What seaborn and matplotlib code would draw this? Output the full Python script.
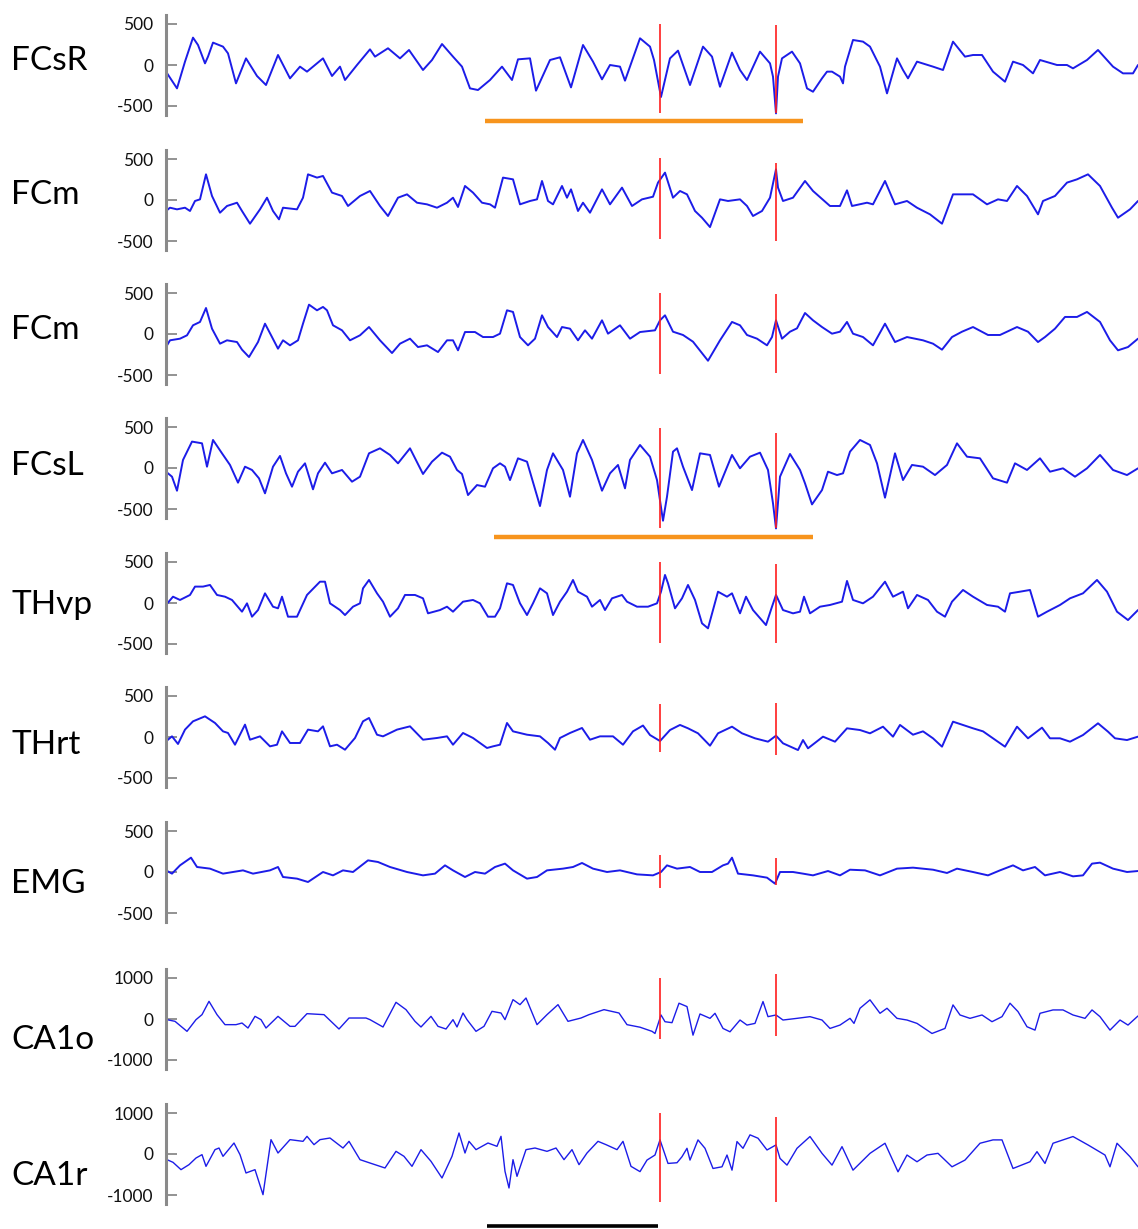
import matplotlib
matplotlib.use("Agg")
from matplotlib import pyplot as plt
import seaborn as sns

# channel names, top to bottom
channels = ["FCsR", "FCm", "FCm", "FCsL", "THvp", "THrt", "EMG", "CA1o", "CA1r"]
scales = [500, 500, 500, 500, 500, 500, 500, 1000, 1000]

# traces: sample index / amplitude
t_fcsr = [0, 11, 19, 27, 32, 39, 42, 47, 57, 62, 70, 80, 91, 100, 112, 124, 134, 141, 157, 166, 174, 179, 191, 204,
          209, 222, 234, 243, 257, 266, 276, 287, 296, 304, 312, 324, 336, 346, 352, 364, 370, 384, 394, 405, 417,
          427, 436, 444, 454, 459, 474, 484, 488, 495, 504, 512, 524, 537, 546, 554, 566, 574, 581, 594, 604, 607,
          610, 612, 616, 626, 634, 641, 647, 656, 661, 666, 674, 677, 679, 687, 697, 704, 714, 721, 731, 737, 742,
          751, 767, 777, 787, 799, 807, 816, 827, 839, 847, 857, 867, 874, 891, 901, 907, 921, 932, 947, 957, 967, 972]
v_fcsr = [-81, -285, 41, 334, 244, 20, 102, 273, 224, 142, -224, 81, -134, -244, 122, -163, -20, -81, 81, -134, -20,
          -183, 0, 191, 102, 204, 81, 183, -61, 61, 256, 102, -20, -285, -305, -183, -20, -183, 69, 81, -313, 61, 94,
          -273, 244, 41, -175, 0, -20, -191, 326, 224, 61, -390, 81, 175, -244, 224, 102, -265, 151, -61, -183, 163,
          20, -142, -590, -142, 81, 163, 20, -285, -326, -163, -81, -81, -142, -224, -20, 305, 285, 224, -20, -346,
          81, -61, -163, 41, -20, -61, 285, 102, 122, 122, -81, -204, 41, 0, -102, 61, 0, 0, -41, 61, 183, -20, -102,
          -102, 0]

t_fcm1 = [0, 4, 11, 19, 24, 29, 34, 40, 46, 54, 61, 71, 76, 84, 94, 101, 107, 113, 117, 131, 137, 142, 151, 157, 166,
          176, 182, 194, 204, 214, 222, 232, 241, 251, 261, 271, 281, 287, 292, 299, 307, 316, 324, 329, 337, 347, 354,
          364, 371, 376, 382, 387, 396, 401, 405, 412, 417, 424, 436, 444, 456, 466, 476, 487, 492, 499, 507, 514, 521,
          529, 536, 544, 554, 562, 574, 581, 587, 596, 604, 610, 612, 617, 627, 639, 647, 664, 674, 681, 686, 701, 707,
          719, 729, 741, 751, 764, 776, 787, 807, 821, 832, 841, 851, 861, 872, 877, 889, 901, 911, 922, 934, 946, 952,
          964, 972]
v_fcm1 = [-134, -94, -114, -94, -134, -12, 8, 313, 49, -155, -73, -33, -134, -289, -114, 28, -134, -236, -94, -114,
          28, 313, 273, 293, 90, 49, -73, 49, 110, -73, -195, 28, 69, -33, -53, -94, -33, 28, -85, 171, 90, -33, -53,
          -94, 273, 252, -53, -12, 8, 232, -12, -53, 171, 28, 130, -134, -33, -155, 130, -53, 151, -73, 8, 40, 212,
          334, 28, 110, 69, -134, -216, -330, 8, -12, 8, -73, -195, -134, 28, 374, 151, -12, 28, 232, 110, -73, -73,
          118, -73, -33, -53, 232, -53, -12, -94, -175, -289, 69, 69, -53, 8, -12, 171, 49, -175, -12, 49, 212, 252,
          313, 171, -94, -216, -114, -12]

t_fcm2 = [0, 4, 14, 21, 27, 34, 40, 46, 54, 61, 71, 76, 83, 92, 99, 106, 112, 117, 124, 132, 137, 143, 151, 157, 161,
          167, 176, 184, 194, 203, 214, 226, 234, 244, 252, 261, 272, 281, 287, 292, 299, 309, 317, 327, 334, 341, 347,
          354, 362, 369, 376, 382, 391, 396, 404, 412, 419, 426, 436, 442, 454, 464, 474, 489, 494, 499, 507, 517, 527,
          542, 554, 566, 574, 581, 591, 601, 606, 610, 616, 624, 631, 639, 647, 656, 666, 674, 681, 687, 697, 707, 719,
          729, 741, 757, 767, 776, 786, 796, 807, 822, 834, 851, 862, 872, 879, 889, 899, 911, 921, 934, 944, 952, 962,
          972]
v_fcm2 = [-159, -77, -57, -16, 106, 147, 317, 65, -118, -77, -98, -191, -281, -98, 126, -37, -179, -77, -138, -77,
          126, 358, 289, 330, 289, 106, 45, -77, -16, 85, -77, -232, -118, -57, -159, -138, -220, -77, -77, -199, 24,
          24, -37, -37, 4, 289, 269, -37, -138, -57, 228, 85, -37, 85, 65, -77, 45, -57, 167, 4, 106, -57, 24, 45, 167,
          228, 28, -12, -94, -326, -77, 147, 106, -12, -57, -138, -37, 167, -57, 28, 69, 256, 167, 85, 4, 28, 147, 4,
          -37, -138, 126, -98, -37, -77, -118, -191, -37, 28, 85, -12, -12, 85, 28, -98, -37, 65, 208, 208, 269, 147,
          -77, -199, -159, -57]

t_fcsl = [0, 6, 11, 17, 26, 36, 41, 47, 56, 64, 72, 79, 86, 93, 99, 107, 114, 120, 126, 132, 139, 147, 152, 159, 166,
          176, 186, 194, 203, 214, 224, 232, 244, 257, 266, 276, 284, 291, 296, 302, 311, 319, 327, 334, 339, 344, 352,
          361, 374, 381, 387, 397, 404, 411, 417, 426, 436, 444, 452, 459, 464, 474, 484, 491, 497, 501, 507, 511, 517,
          526, 534, 544, 553, 566, 574, 584, 594, 602, 607, 610, 614, 624, 634, 639, 646, 656, 662, 671, 677, 684, 694,
          704, 711, 719, 729, 737, 746, 757, 769, 781, 791, 801, 814, 827, 841, 849, 861, 874, 884, 897, 909, 921, 934,
          947, 961, 972]
v_fcsl = [-45, -106, -277, 98, 322, 301, 16, 342, 179, 37, -179, 16, -24, -126, -309, 16, 147, -65, -228, -45, 57,
          -260, -65, 65, -65, -24, -167, -106, 179, 240, 159, 57, 240, -73, 77, 187, 138, -24, -73, -330, -208, -228,
          -4, 57, 16, -147, 118, 77, -464, -24, 179, -24, -350, 179, 342, 98, -277, -65, 37, -248, 98, 281, 138, -147,
          -643, -350, 199, 240, 16, -269, 179, 159, -228, 159, -4, 138, 187, -24, -431, -737, -106, 171, -24, -187,
          -444, -269, -45, -86, -65, 199, 342, 281, 57, -362, 179, -147, 37, 16, -86, 37, 301, 138, 118, -126, -179,
          57, -24, 118, -45, -4, -106, -4, 159, -24, -86, -4]

t_thvp = [0, 7, 14, 24, 29, 37, 44, 51, 59, 66, 76, 81, 86, 92, 99, 107, 112, 116, 122, 131, 141, 154, 159, 164, 174,
          179, 187, 194, 197, 203, 211, 217, 224, 232, 239, 249, 257, 262, 274, 281, 287, 297, 307, 314, 322, 329, 334,
          341, 347, 354, 361, 367, 374, 381, 387, 394, 401, 407, 412, 421, 426, 434, 439, 446, 456, 461, 471, 482, 491,
          495, 499, 502, 509, 516, 522, 529, 536, 542, 552, 561, 566, 574, 580, 587, 600, 606, 610, 617, 627, 634, 638,
          644, 654, 664, 676, 681, 687, 697, 707, 719, 727, 737, 742, 751, 762, 771, 779, 786, 797, 807, 821, 832, 839,
          844, 854, 864, 872, 881, 894, 904, 917, 931, 941, 951, 962, 972]
v_thvp = [-24, 77, 37, 98, 200, 200, 220, 98, 77, 37, -106, -4, -167, -86, 118, -45, -65, 77, -167, -167, 98, 260,
          260, -4, -86, -147, -45, -4, 179, 281, 118, 16, -167, -65, 98, 98, 57, -126, -86, -45, -106, 16, 37, -4,
          -167, -167, -65, 240, 220, -4, -147, -4, 179, 118, -147, 16, 138, 281, 138, 77, -45, 37, -86, 57, 98, 16,
          -45, -45, -4, 138, 342, 240, -65, 57, 220, 37, -248, -309, 138, 77, 118, -126, 77, -86, -269, -45, 98, -86,
          -126, -106, 77, -126, -45, -24, 16, 269, 37, -4, 77, 260, 77, 138, -65, 98, 37, -106, -167, 16, 159, 77,
          -24, -45, -106, 118, 138, 159, -167, -106, -24, 57, 118, 281, 138, -106, -208, -86]

t_thrt = [0, 6, 12, 19, 27, 39, 49, 57, 62, 69, 79, 84, 94, 104, 111, 116, 124, 134, 142, 152, 157, 164, 171, 179,
          189, 197, 203, 211, 217, 231, 244, 257, 271, 281, 287, 297, 307, 321, 327, 334, 341, 347, 361, 374, 382, 389,
          394, 404, 416, 424, 434, 447, 457, 467, 477, 484, 494, 504, 514, 522, 532, 544, 552, 566, 576, 589, 602, 610,
          617, 632, 637, 642, 657, 669, 681, 694, 704, 717, 727, 734, 747, 757, 767, 776, 787, 807, 817, 827, 839, 851,
          862, 876, 884, 894, 904, 917, 932, 942, 949, 961, 972]
v_thrt = [-53, 8, -85, 90, 191, 252, 171, 69, 49, -94, 151, -33, 8, -114, -94, 69, -73, -73, 90, 69, 130, -114, -94,
          -155, -12, 191, 232, 28, 8, 90, 130, -33, -12, 8, -94, 49, -12, -134, -114, -94, 171, 69, 28, 8, -73, -155,
          -12, 49, 110, -33, 8, 8, -94, 69, 140, 24, -49, 85, 147, 106, 45, -106, 45, 126, 45, -16, -57, 16, -77,
          -159, -37, -138, 4, -57, 106, 85, 45, 126, 4, 147, 28, 69, -16, -118, 187, 106, 69, -16, -118, 126, -16, 114,
          -16, -16, -57, 24, 167, 65, -16, -37, 4]

t_emg = [0, 6, 14, 25, 31, 44, 57, 77, 87, 104, 112, 117, 131, 142, 157, 167, 177, 187, 202, 212, 224, 241, 257, 269,
         279, 287, 299, 309, 319, 329, 339, 347, 361, 371, 381, 397, 407, 416, 427, 441, 454, 471, 487, 495, 501, 511,
         524, 534, 546, 557, 562, 566, 572, 587, 601, 609, 614, 627, 637, 647, 662, 674, 684, 699, 714, 731, 747, 767,
         781, 791, 807, 822, 834, 847, 857, 869, 879, 894, 907, 917, 926, 934, 947, 961, 972]
v_emg = [20, -20, 81, 175, 61, 41, -20, 20, -20, 20, 61, -61, -81, -122, 0, -41, 20, 0, 142, 122, 61, 0, -41, -20, 81,
         20, -61, 0, -20, 61, 102, 20, -81, -61, 20, 41, 61, 110, 41, 0, 20, -29, -41, 0, 81, 41, 61, 0, 0, 81, 102,
         175, -20, -41, -69, -142, 0, 0, -20, -41, 12, -41, 28, 20, -41, 41, 53, 28, -12, 41, 0, -41, 20, 81, 20, 61,
         -41, 0, -53, -41, 102, 114, 41, 0, 12]

t_ca1o = [1, 9, 21, 30, 36, 43, 51, 59, 70, 76, 82, 89, 95, 100, 112, 124, 129, 141, 158, 173, 183, 200, 204, 217,
          230, 240, 249, 255, 265, 272, 280, 287, 291, 297, 301, 310, 318, 326, 335, 339, 347, 354, 360, 371, 381, 392,
          402, 415, 423, 438, 453, 461, 474, 486, 489, 495, 499, 506, 513, 521, 527, 534, 544, 549, 557, 564, 574, 581,
          589, 597, 602, 610, 617, 631, 644, 656, 664, 674, 684, 688, 694, 704, 714, 721, 731, 741, 751, 766, 779, 787,
          794, 804, 816, 826, 836, 844, 852, 861, 869, 874, 887, 897, 907, 919, 926, 934, 944, 954, 962, 972]
v_ca1o = [-16, -57, -301, -16, 106, 431, 106, -138, -138, -98, -220, 65, -16, -220, 65, -179, -179, 130, 106, -244,
          24, 24, -16, -195, 407, 228, -57, -195, 65, -179, -244, -16, -195, 146, -16, -301, -179, 187, 146, -16, 472,
          350, 512, -138, 106, 350, -57, 24, 106, 228, 146, -138, -200, -301, -353, 98, -66, -90, 385, 303, -394, 123,
          16, 139, -230, -312, -25, -148, -107, 426, 57, 98, -25, 16, 57, -25, -230, -148, 16, -107, 262, 467, 139,
          262, 16, -25, -107, -353, -230, 344, 98, 16, 98, -66, 57, 385, 180, -189, -271, 139, 221, 221, 98, 16, 221,
          57, -271, -25, -148, 74]

t_ca1r = [1, 7, 15, 23, 30, 36, 40, 49, 53, 57, 68, 74, 80, 89, 97, 105, 112, 124, 137, 141, 148, 154, 164, 177, 183,
          194, 204, 219, 230, 238, 246, 255, 265, 276, 286, 293, 299, 303, 310, 322, 331, 335, 339, 343, 347, 351, 360,
          369, 381, 390, 398, 406, 413, 421, 432, 440, 451, 457, 465, 474, 481, 489, 494, 502, 511, 516, 521, 524, 532,
          539, 547, 556, 561, 566, 571, 577, 584, 592, 601, 610, 614, 621, 631, 644, 656, 666, 676, 687, 704, 719, 732,
          741, 751, 761, 772, 786, 799, 814, 827, 836, 847, 864, 871, 879, 887, 907, 922, 939, 944, 951, 964, 972]
v_ca1r = [-138, -203, -382, -260, -98, -16, -301, 106, 146, -57, 268, -16, -463, -382, -992, 350, 24, 350, 309, 431,
          228, 350, 390, 146, 309, -138, -220, -341, 65, -57, -301, 106, -179, -585, -57, 512, 24, 309, 106, 268, 187,
          431, -423, -829, -138, -545, 106, 146, 65, 146, -138, 106, -260, 24, 309, 228, 106, 309, -301, -430, -148,
          -25, 344, -230, -213, -66, 139, -148, 344, 139, -353, -312, -25, -394, 303, 139, 467, 385, 98, 221, -107,
          -271, 139, 426, 16, -271, 180, -394, 16, 262, -435, -25, -189, -25, 16, -312, -148, 262, 344, 344, -353,
          -189, 57, -230, 262, 426, 221, -25, -312, 262, -66, -312]

traces = [(t_fcsr, v_fcsr), (t_fcm1, v_fcm1), (t_fcm2, v_fcm2), (t_fcsl, v_fcsl), (t_thvp, v_thvp),
          (t_thrt, v_thrt), (t_emg, v_emg), (t_ca1o, v_ca1o), (t_ca1r, v_ca1r)]

# event markers (red) and their extent in each channel (top, bottom)
event_times = [494, 610]
marker_spans = [[(500, -586), (488, -586)], [(512, -476), (451, -500)], [(500, -488), (488, -476)],
                [(488, -732), (427, -732)], [(500, -488), (476, -488)], [(403, -183), (415, -220)],
                [(207, -195), (171, -159)], [(1000, -488), (1098, -415)], [(1000, -1171), (903, -1171)]]

# orange underlines: channel index, start, end, level
underlines = [(0, 319, 637, -683), (3, 328, 647, -842)]
# scale bar under the last channel
scalebar = (321, 492, -1757)

# layout (pixels)
W, H = 1138, 1229
zero_rows = [65, 200, 334, 468, 603, 737, 872, 1019, 1154]
label_rows = [61, 195, 330, 466, 605, 745, 884, 1040, 1176]

sns.set_theme(style="white")
plt.rcParams['font.family'] = ['Lato', 'DejaVu Sans']

fig = plt.figure(figsize=(W / 100, H / 100), dpi=100)

for i, name in enumerate(channels):
    lim = scales[i]
    per_px = lim / 41.0
    zero = zero_rows[i]
    ax = fig.add_axes([166 / W, 1 - (zero + 50) / H, 972 / W, 100 / H])
    ax.set_facecolor("none")
    t, v = traces[i]
    lw = 1.0 if lim == 1000 else 1.4
    sns.lineplot(x=t, y=v, ax=ax, color="#1c1ce8", lw=lw, estimator=None, sort=False)
    ax.lines[-1].set_clip_on(False)
    ax.lines[-1].set_solid_joinstyle("round")

    for (top, bot), et in zip(marker_spans[i], event_times):
        ax.vlines(et, bot, top, color="#ff1e1e", lw=1.2, zorder=4, clip_on=False)

    for ch, x0, x1, lvl in underlines:
        if ch == i:
            ax.plot([x0, x1], [lvl, lvl], color="#f7941d", lw=3.2, solid_capstyle="butt", clip_on=False)
    if i == len(channels) - 1:
        ax.plot([scalebar[0], scalebar[1]], [scalebar[2], scalebar[2]], color="black", lw=2.6,
                solid_capstyle="butt", clip_on=False)

    ax.set_xlim(0, 972)
    ax.set_ylim(-50 * per_px, 50 * per_px)
    ax.set_xticks([])
    ax.set_yticks([-lim, 0, lim])
    ax.set_yticklabels([f"-{lim}", "0", f"{lim}"])
    ax.tick_params(axis="y", direction="in", length=8, width=1.3, color="#8a8a8a", pad=9,
                   labelsize=12.5, labelcolor="#111111", left=True)
    for side in ["top", "right", "bottom"]:
        ax.spines[side].set_visible(False)
    ax.spines["left"].set_color("#8a8a8a")
    ax.spines["left"].set_linewidth(2.2)

    fig.text(11 / W, 1 - label_rows[i] / H, name, fontsize=24, ha="left", va="center", color="black")

fig.savefig("out.png", dpi=100, facecolor="white")
